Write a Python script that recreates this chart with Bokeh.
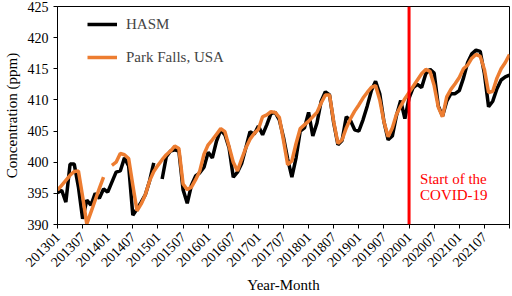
import math
from bokeh.plotting import figure
from bokeh.models import Range1d, FixedTicker, Span, Label, Legend, LegendItem
from bokeh.embed import file_html
from bokeh.resources import INLINE

nan = float("nan")

# month index 0 = 201301 ... 108 = 202201
tick_idx = list(range(0, 109, 6))
tick_labels = ["201301", "201307", "201401", "201407", "201501", "201507",
               "201601", "201607", "201701", "201707", "201801", "201807",
               "201901", "201907", "202001", "202007", "202101", "202107", ""]

hasm = [
    395.1, 395.5, 393.6, 399.7, 399.7, 396.0, 390.9, 393.9, 393.1, 395.0, 394.2, 395.7,
    395.2, 396.8, 398.4, 398.6, 400.7, 399.4, 391.5, 392.5, 393.6, 394.8, 397.0, 399.9,
    nan, 397.3, 400.9, 401.8, 402.0, 401.8, 395.6, 393.4, 396.3, 397.8, 398.3, 399.2,
    401.6, 400.7, 403.4, 405.2, 404.4, 402.3, 397.6, 398.4, 399.8, 402.3, 404.9, 404.5,
    405.8, 404.4, 406.0, 407.8, 408.0, 406.8, 404.0, 400.5, 397.6, 400.7, 405.0, 405.5,
    408.0, 404.2, 406.3, 409.8, 411.3, 410.8, 406.3, 402.8, 403.5, 407.3, 406.7, 405.2,
    405.0, 406.8, 409.0, 411.5, 413.0, 411.0, 406.5, 403.6, 404.2, 407.5, 409.9, 407.0,
    410.3, 412.0, 412.5, 412.0, 414.2, 414.9, 414.3, 409.0, 407.4, 409.8, 411.0, 411.0,
    411.5, 413.5, 416.0, 417.4, 418.0, 417.8, 414.2, 408.9, 409.8, 411.8, 413.2, 413.7,
    414.0,
]

park_falls = [
    395.5, 396.3, 397.1, 397.9, 398.5, 398.6, 394.5, 390.1, 392.0, 393.9, 395.8, 397.6,
    nan, 399.5, 400.0, 401.4, 401.2, 400.6, 396.3, 392.2, 393.3, 394.8, 397.0, 398.5,
    399.5, 400.4, 401.2, 401.8, 402.6, 402.2, 396.5, 395.6, 396.0, 397.2, 398.6, 401.3,
    402.8, 403.6, 404.5, 405.4, 404.9, 402.5, 400.0, 398.6, 400.5, 402.3, 403.7, 404.6,
    405.3, 407.3, 407.6, 408.1, 408.0, 407.2, 403.5, 399.6, 400.2, 403.0, 405.4, 406.0,
    406.6, 407.3, 408.0, 409.5, 410.8, 410.8, 406.5, 403.0, 403.6, 405.5, 407.0, 408.2,
    409.2, 410.3, 411.2, 412.0, 412.3, 410.0, 406.5, 404.1, 405.5, 407.7, 409.0, 410.2,
    411.2, 412.2, 413.2, 414.2, 414.9, 414.6, 412.3, 408.8, 407.3, 410.5, 411.7, 412.6,
    413.6, 415.0, 415.6, 416.7, 417.3, 417.0, 414.9, 411.2, 411.4, 413.5, 415.0, 416.0,
    417.3,
]

covid_idx = 84
months = list(range(len(hasm)))

FONT = "Liberation Serif"

p = figure(width=512, height=296, output_backend="svg", toolbar_location=None,
           x_range=Range1d(0, 108), y_range=Range1d(390, 425))
p.min_border_left = 53
p.min_border_right = 3
p.min_border_top = 6
p.min_border_bottom = 68
p.xgrid.visible = False
p.ygrid.visible = False
p.outline_line_color = "black"
p.outline_line_width = 1
p.background_fill_color = "white"
p.border_fill_color = "white"

r1 = p.line(months, hasm, line_color="black", line_width=3.5)
r2 = p.line(months, park_falls, line_color="#ED7D31", line_width=3.5)

p.add_layout(Span(location=covid_idx, dimension="height", line_color="#FF0000", line_width=3))

p.add_layout(Label(x=covid_idx, y=397.3, x_offset=11, text="Start of the",
                   text_color="#FF0000", text_font=FONT, text_font_size="15px",
                   text_baseline="alphabetic"))
p.add_layout(Label(x=covid_idx, y=394.7, x_offset=11, text="COVID-19",
                   text_color="#FF0000", text_font=FONT, text_font_size="15px",
                   text_baseline="alphabetic"))

legend = Legend(items=[LegendItem(label="HASM", renderers=[r1]),
                       LegendItem(label="Park Falls, USA", renderers=[r2])],
                location=(30, 157))
legend.padding = 0
legend.margin = 0
legend.spacing = 13
legend.glyph_width = 30
legend.glyph_height = 20
legend.label_height = 20
legend.label_standoff = 9
legend.label_text_font = FONT
legend.label_text_font_size = "15px"
legend.label_text_font_style = "normal"
legend.border_line_alpha = 0
legend.background_fill_alpha = 0
p.add_layout(legend, "center")

for ax in (p.xaxis[0], p.yaxis[0]):
    ax.axis_line_color = "black"
    ax.major_tick_line_color = "black"
    ax.major_tick_in = 0
    ax.major_tick_out = 4
    ax.minor_tick_line_color = None
    ax.major_label_text_font = FONT
    ax.major_label_text_font_size = "14px"
    ax.major_label_text_color = "black"
    ax.axis_label_text_font = FONT
    ax.axis_label_text_font_size = "15px"
    ax.axis_label_text_font_style = "normal"
    ax.axis_label_text_color = "black"

p.xaxis[0].ticker = FixedTicker(ticks=tick_idx)
p.xaxis[0].major_label_overrides = {i: s for i, s in zip(tick_idx, tick_labels)}
p.xaxis[0].major_label_orientation = math.pi / 4
p.xaxis[0].major_label_standoff = 6
p.xaxis[0].axis_label = "Year-Month"
p.xaxis[0].axis_label_standoff = 3

p.yaxis[0].ticker = FixedTicker(ticks=list(range(390, 426, 5)))
p.yaxis[0].axis_label = "Concentration (ppm)"
p.yaxis[0].axis_label_standoff = 5

open("out.html", "w").write(file_html(p, INLINE))
